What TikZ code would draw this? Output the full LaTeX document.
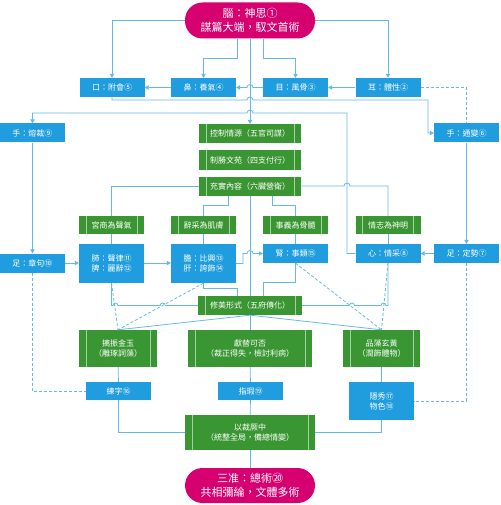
\documentclass[tikz,border=0pt]{standalone}
\usepackage{fontspec}
\newfontfamily\cjk{Noto Sans CJK TC}
\usetikzlibrary{arrows.meta}
\definecolor{boxblue}{RGB}{32,157,222}
\definecolor{wireblue}{RGB}{100,186,230}
\definecolor{leaf}{RGB}{58,150,50}
\definecolor{rose}{RGB}{214,0,112}
\begin{document}
\begin{tikzpicture}[
    x=1pt, y=-1pt,
    font=\cjk\fontsize{8}{10}\selectfont
]
	\tikzset{
	    blnode/.style = {rectangle, fill=boxblue, text=white, align=center, inner sep=0pt, minimum width=65pt, minimum height=19pt},
	    grnode/.style = {rectangle, fill=leaf, text=white, align=center, inner sep=0pt, minimum height=19pt,
	        path picture={\draw[white!55!leaf, line width=0.6pt]
	            ([xshift=7pt]path picture bounding box.north west) -- ([xshift=7pt]path picture bounding box.south west)
	            ([xshift=-7pt]path picture bounding box.north east) -- ([xshift=-7pt]path picture bounding box.south east);}},
	    pknode/.style = {rectangle, rounded corners=17.5pt, fill=rose, text=white, align=center, inner sep=0pt,
	        minimum width=130pt, minimum height=36pt, font=\cjk\fontsize{11}{14}\selectfont},
	    edgel/.style = {draw=wireblue, line width=0.8pt},
	    edgea/.style = {edgel, -{Triangle[length=4pt,width=4.5pt]}},
	    edged/.style = {edgel, dashed, dash pattern=on 3pt off 2pt}
	}
	\useasboundingbox (0,0) rectangle (500,505);
	% top
	\node[pknode] at (250,20.5) (brain) {腦：神思①\\謀篇大端，馭文首術};
	\node[blnode] at (112,87.5) (mouth) {口：附會⑤};
	\node[blnode] at (203.5,87.5) (nose) {鼻：養氣④};
	\node[blnode] at (295.5,87.5) (eye) {目：風骨③};
	\node[blnode] at (388,87.5) (ear) {耳：體性②};
	\node[blnode] at (32.5,133) (handl) {手：熔裁⑨};
	\node[blnode] at (466.5,133) (handr) {手：通變⑥};
	% green column
	\node[grnode, minimum width=102pt] at (250,133.5) (rule) {控制情源（五官司謀）};
	\node[grnode, minimum width=102pt] at (250,160) (field) {制勝文苑（四支付行）};
	\node[grnode, minimum width=102pt] at (250,186) (core) {充實內容（六臟營衛）};
	\node[grnode, minimum width=65pt, minimum height=18pt] at (111.5,225) (sound) {宮商為聲氣};
	\node[grnode, minimum width=65pt, minimum height=18pt] at (203.5,225) (skin) {辭采為肌膚};
	\node[grnode, minimum width=65pt, minimum height=18pt] at (295.5,225) (bone) {事義為骨髓};
	\node[grnode, minimum width=65pt, minimum height=18pt] at (388,225) (spirit) {情志為神明};
	% organs
	\node[blnode] at (32.5,263) (footl) {足：章句⑩};
	\node[blnode, minimum height=39pt] at (111.5,263.5) (lungs) {肺：聲律⑪\\脾：麗辭⑫};
	\node[blnode, minimum height=39pt] at (203.5,263.5) (gall) {膽：比興⑬\\肝：誇飾⑭};
	\node[blnode] at (295.5,253.5) (kidney) {腎：事類⑮};
	\node[blnode] at (388,253.5) (heart) {心：情采⑧};
	\node[blnode] at (466.5,253.5) (footr) {足：定勢⑦};
	% lower part
	\node[grnode, minimum width=104pt] at (250,305.5) (form) {修美形式（五府傳化）};
	\node[grnode, minimum width=78pt, minimum height=37pt] at (118,348.5) (carve) {摛振金玉\\（雕琢詞藻）};
	\node[grnode, minimum width=124pt, minimum height=37pt] at (250,348.5) (judge) {獻替可否\\（裁正得失，檢討利病）};
	\node[grnode, minimum width=77pt, minimum height=37pt] at (381.5,348.5) (tint) {品藻玄黃\\（潤飾體物）};
	\node[blnode, minimum height=18pt] at (118.5,391) (word) {練字⑯};
	\node[blnode, minimum height=18pt] at (250.5,391) (flaw) {指瑕⑲};
	\node[blnode, minimum height=38pt] at (381.5,401) (hide) {隱秀⑰\\物色⑱};
	\node[grnode, minimum width=130pt, minimum height=35pt] at (250,432.5) (whole) {以裁厥中\\（統整全局，備總情變）};
	\node[pknode, minimum height=35pt] at (250,485.5) (total) {三准：總術⑳\\共相彌綸，文體多術};
	% from the head
	\draw[edgea] (brain.west) -| (mouth.north);
	\draw[edgea] (brain.east) -| (ear.north);
	\draw[edgea] ([xshift=-13pt]brain.south) -- ++(0,20) -| (nose.north);
	\draw[edgea] ([xshift=13pt]brain.south) -- ++(0,20) -| (eye.north);
	\draw[edgea] (brain.south) -- (rule.north);
	\draw[edgea] (ear) -- (eye);
	\draw[edgea] (eye.west) -- (253,87.5) arc[start angle=0,end angle=180,radius=3pt] -- (nose.east);
	\draw[edgea] (nose) -- (mouth);
	\draw[edgea] (mouth.south) -- (112,100) -- (247,100) arc[start angle=180,end angle=0,radius=3pt]
	    -- (428,100) -- (428,133) -- (handr.west);
	\draw[edged] (ear.east) -| (handr.north);
	\draw[edgea] (heart.west) -- (347,253.5) -- (347,113) -- (253,113)
	    arc[start angle=0,end angle=180,radius=3pt] -| (handl.north);
	\draw[edgea] (handl) -- (footl);
	\draw[edgea] (handr) -- (footr);
	\draw[edgea] (footl) -- (footl -| lungs.west);
	\draw[edgea] (lungs.east |- footl) -- (gall.west |- footl);
	\draw[edgea] (gall.east) -- (243,263.5) -- (243,253.5) -- (247,253.5)
	    arc[start angle=180,end angle=0,radius=3pt] -- (kidney.west);
	\draw[edgea] (footr) -- (heart);
	% inner content
	\draw[edgel] (core.west) -| (sound.north);
	\draw[edgel] ([xshift=-22pt]core.south) -- ++(0,10) -| (skin.north);
	\draw[edgel] ([xshift=22pt]core.south) -- ++(0,10) -| (bone.north);
	\draw[edgel] (core.east) -- (344,186) arc[start angle=180,end angle=0,radius=3pt] -| (spirit.north);
	\draw[edgel] (core.south) -- (form.north);
	\draw[edgel] (sound) -- (lungs);
	\draw[edgel] (skin) -- (gall);
	\draw[edgel] (bone) -- (kidney);
	\draw[edgel] (spirit) -- (heart);
	% to the form
	\draw[edgel] (lungs.south) -- (111.5,305.5) -- (113,305.5) arc[start angle=180,end angle=0,radius=2.5pt]
	    -- (160.2,305.5) arc[start angle=180,end angle=0,radius=2.5pt] -- (form.west);
	\draw[edgel] (gall.south) -- ++(0,5) -| ([xshift=-13pt]form.north);
	\draw[edgel] (kidney.south) -- ++(0,19) -| ([xshift=13pt]form.north);
	\draw[edgel] (heart.south) -- (388,305.5) -- (386,305.5) arc[start angle=0,end angle=180,radius=2.5pt]
	    -- (354.5,305.5) arc[start angle=0,end angle=180,radius=2.5pt] -- (form.east);
	\draw[edgel] (form.south) -- (carve.north);
	\draw[edgel] (form.south) -- (judge.north);
	\draw[edgel] (form.south) -- (tint.north);
	\draw[edged] (lungs.south) -- (carve.north);
	\draw[edged] (gall.south) -- (carve.north);
	\draw[edged] (kidney.south) -- (tint.north);
	\draw[edged] (heart.south) -- (tint.north);
	\draw[edged] (footl.south) |- (word.west);
	\draw[edged] (footr.south) |- (hide.east);
	% bottom
	\draw[edgel] (carve) -- (word);
	\draw[edgel] (judge) -- (flaw);
	\draw[edgel] (tint) -- (hide);
	\draw[edgel] (word.south) |- (whole.west);
	\draw[edgel] (hide.south) |- (whole.east);
	\draw[edgel] (flaw) -- (whole);
	\draw[edgel] (whole) -- (total);
\end{tikzpicture}
\end{document}
